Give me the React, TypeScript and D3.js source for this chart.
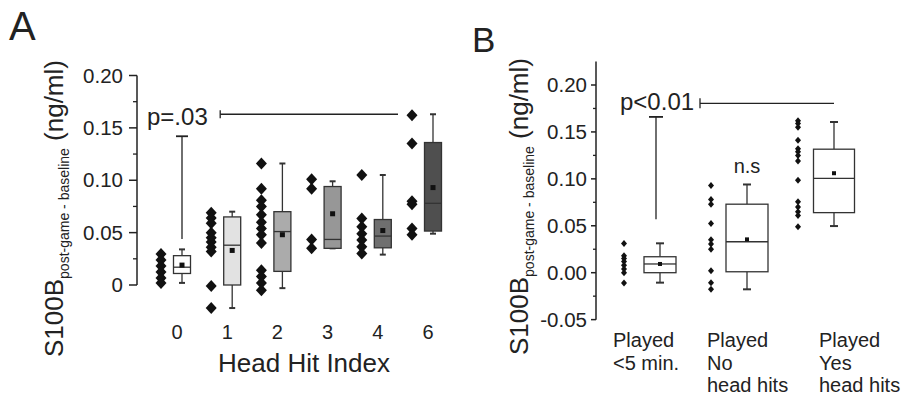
import React from "react";
import * as d3 from "d3";

// ---------- Panel A data ----------
const hitIndexCategories = ["0", "1", "2", "3", "4", "6"];
const hitIndexPoints: number[][] = [
  [0.0296, 0.0239, 0.0181, 0.0124, 0.0067, 0.0019],
  [0.069, 0.064, 0.059, 0.05, 0.045, 0.041, 0.036, 0.032, -0.001, -0.022],
  [0.116, 0.092, 0.081, 0.075, 0.067, 0.06, 0.054, 0.048, 0.04, 0.014, 0.008, 0.002, -0.005],
  [0.101, 0.092, 0.0435, 0.035],
  [0.105, 0.0635, 0.0555, 0.049, 0.043, 0.0365, 0.03],
  [0.162, 0.135, 0.08, 0.077, 0.054, 0.048],
];
const hitWhiskerLow = [0.002, -0.022, -0.003, 0.035, 0.029, 0.049];
const hitQ1 = [0.011, 0.0, 0.013, 0.035, 0.0355, 0.0515];
const hitMedian = [0.017, 0.038, 0.051, 0.0435, 0.0467, 0.078];
const hitQ3 = [0.028, 0.065, 0.07, 0.094, 0.0625, 0.136];
const hitWhiskerHigh = [0.034, 0.07, 0.116, 0.099, 0.105, 0.163];
const hitMean = [0.019, 0.033, 0.048, 0.068, 0.052, 0.093];
const tickValuesA = [0, 0.05, 0.1, 0.15, 0.2];
const tickLabelsA = ["0", "0.05", "0.10", "0.15", "0.20"];
const minorTicksA = [0.025, 0.075, 0.125, 0.175];
const pTextA = "p=.03";

// ---------- Panel B data ----------
const playCategories = ["<5", "No", "Yes"];
const playLabels = [
  ["Played", "<5 min."],
  ["Played", "No", "head hits"],
  ["Played", "Yes", "head hits"],
];
const playPoints: number[][] = [
  [0.031, 0.018, 0.015, 0.012, 0.008, 0.004, 0.0, -0.011],
  [0.093, 0.078, 0.073, 0.0525, 0.035, 0.0305, 0.025, 0.002, -0.0106, -0.0177],
  [0.162, 0.159, 0.155, 0.141, 0.132, 0.129, 0.125, 0.119, 0.0986, 0.0755, 0.07, 0.065, 0.061, 0.049],
];
const playWhiskerLow = [-0.0106, -0.0177, 0.0497];
const playQ1 = [0.0, 0.001, 0.064];
const playMedian = [0.0093, 0.033, 0.1004];
const playQ3 = [0.017, 0.073, 0.1316];
const playWhiskerHigh = [0.0313, 0.094, 0.1606];
const playMean = [0.0093, 0.0355, 0.106];
const tickValuesB = [-0.05, 0, 0.05, 0.1, 0.15, 0.2];
const tickLabelsB = ["-0.05", "0.00", "0.05", "0.10", "0.15", "0.20"];
const minorTicksB = [-0.025, 0.025, 0.075, 0.125, 0.175];
const pTextB = "p<0.01";
const nsText = "n.s";

// ---------- styles / layout ----------
const FONT = "'Liberation Sans', Arial, sans-serif";
const INK = "#222";
const boxFillsA = ["#ffffff", "#e2e2e2", "#ababab", "#979797", "#6f6f6f", "#4f4f4f"];
const boxWidthsB = [32, 42, 41];
const labelOffsetsB = [-47, -40, -15];

function YTitle({ x, y }: { x: number; y: number }) {
  return (
    <text transform={`translate(${x},${y}) rotate(-90)`} fontFamily={FONT} fontSize={26} fill={INK}>
      S100B
      <tspan fontSize={14} dy={6}>post-game - baseline</tspan>
      <tspan fontSize={26} dy={-6}> (ng/ml)</tspan>
    </text>
  );
}

function Diamond({ cx, cy, hw, hh }: { cx: number; cy: number; hw: number; hh: number }) {
  return <path d={`M${cx},${cy - hh}L${cx + hw},${cy}L${cx},${cy + hh}L${cx - hw},${cy}Z`} fill="#111" />;
}

function Box({
  cx, w, y, lo, q1, med, q3, hi, mean, fill, cap, ms,
}: {
  cx: number; w: number; y: (v: number) => number; lo: number; q1: number; med: number;
  q3: number; hi: number; mean: number; fill: string; cap: number; ms: number;
}) {
  const sw = 1.3;
  return (
    <g stroke="#333" strokeWidth={sw}>
      <line x1={cx} x2={cx} y1={y(hi)} y2={y(q3)} />
      <line x1={cx} x2={cx} y1={y(q1)} y2={y(lo)} />
      <line x1={cx - cap} x2={cx + cap} y1={y(hi)} y2={y(hi)} strokeWidth={2} />
      <line x1={cx - cap} x2={cx + cap} y1={y(lo)} y2={y(lo)} strokeWidth={2} />
      <rect x={cx - w / 2} y={y(q3)} width={w} height={y(q1) - y(q3)} fill={fill} />
      <line x1={cx - w / 2} x2={cx + w / 2} y1={y(med)} y2={y(med)} />
      <rect x={cx - ms / 2} y={y(mean) - ms / 2} width={ms} height={ms} fill="#111" stroke="none" />
    </g>
  );
}

export default function App() {
  // Panel A scales
  const xA = d3.scalePoint<string>().domain(hitIndexCategories).range([177, 428]);
  const yA = d3.scaleLinear().domain([0, 0.2]).range([285, 75.5]);
  const axisAx = 137;
  // Panel B scales
  const xB = d3.scalePoint<string>().domain(playCategories).range([660, 834]);
  const yB = d3.scaleLinear().domain([0, 0.2]).range([272.7, 85]);
  const axisBx = 596;

  const bracketA = { level: 0.163, top: 0.142, bottom: 0.044, text: 0.153 };
  const bracketB = { level: 0.1805, top: 0.166, bottom: 0.057, text: 0.173 };

  return (
    <svg width={906} height={400} style={{ position: "absolute", left: 0, top: 0, background: "#fff" }}>
      {/* Panel letters */}
      <text x={9} y={40} fontFamily={FONT} fontSize={40} fill={INK}>A</text>
      <text x={472} y={52} fontFamily={FONT} fontSize={35} fill={INK}>B</text>

      {/* ---------- Panel A ---------- */}
      <YTitle x={63} y={357} />
      <line x1={axisAx} x2={axisAx} y1={yA(0.2)} y2={yA(0)} stroke={INK} strokeWidth={1.5} />
      {tickValuesA.map((v, i) => (
        <g key={"ta" + i}>
          <line x1={axisAx - 8} x2={axisAx} y1={yA(v)} y2={yA(v)} stroke={INK} strokeWidth={1.5} />
          <text x={axisAx - 14} y={yA(v)} dy="0.35em" textAnchor="end" fontFamily={FONT} fontSize={20.5} fill={INK}>
            {tickLabelsA[i]}
          </text>
        </g>
      ))}
      {minorTicksA.map((v, i) => (
        <line key={"ma" + i} x1={axisAx - 4} x2={axisAx} y1={yA(v)} y2={yA(v)} stroke={INK} strokeWidth={1.3} />
      ))}
      {hitIndexCategories.map((c, i) => (
        <text key={"xa" + c} x={xA(c)!} y={339} textAnchor="middle" fontFamily={FONT} fontSize={20} fill={INK}>
          {c}
        </text>
      ))}
      <text x={304} y={372} textAnchor="middle" fontFamily={FONT} fontSize={26} fill={INK}>Head Hit Index</text>

      {hitIndexCategories.map((c, i) => (
        <g key={"pa" + c}>
          {hitIndexPoints[i].map((v, j) => (
            <Diamond key={j} cx={xA(c)! - 16} cy={yA(v)} hw={5.5} hh={6} />
          ))}
          <Box
            cx={xA(c)! + 5} w={17} y={yA}
            lo={hitWhiskerLow[i]} q1={hitQ1[i]} med={hitMedian[i]} q3={hitQ3[i]}
            hi={hitWhiskerHigh[i]} mean={hitMean[i]} fill={boxFillsA[i]} cap={3} ms={5}
          />
        </g>
      ))}

      {/* Bracket A */}
      <text x={147} y={yA(bracketA.text)} fontFamily={FONT} fontSize={24} fill={INK}>{pTextA}</text>
      <g stroke={INK} strokeWidth={1.3}>
        <line x1={xA("1")! - 7} x2={xA("6")! - 30} y1={yA(bracketA.level)} y2={yA(bracketA.level)} />
        <line x1={xA("1")! - 7} x2={xA("1")! - 7} y1={yA(bracketA.level) - 4} y2={yA(bracketA.level) + 4} />
        <line x1={xA("0")! + 5} x2={xA("0")! + 5} y1={yA(bracketA.top)} y2={yA(bracketA.bottom)} />
        <line x1={xA("0")! - 1} x2={xA("0")! + 11} y1={yA(bracketA.top)} y2={yA(bracketA.top)} strokeWidth={1.8} />
      </g>

      {/* ---------- Panel B ---------- */}
      <YTitle x={528} y={355} />
      <line x1={axisBx} x2={axisBx} y1={yB(0.225)} y2={yB(-0.05)} stroke={INK} strokeWidth={1.5} />
      {tickValuesB.map((v, i) => (
        <g key={"tb" + i}>
          <line x1={axisBx - 5} x2={axisBx} y1={yB(v)} y2={yB(v)} stroke={INK} strokeWidth={1.5} />
          <text x={axisBx - 9} y={yB(v)} dy="0.35em" textAnchor="end" fontFamily={FONT} fontSize={20.5} fill={INK}>
            {tickLabelsB[i]}
          </text>
        </g>
      ))}
      {minorTicksB.map((v, i) => (
        <line key={"mb" + i} x1={axisBx - 3} x2={axisBx} y1={yB(v)} y2={yB(v)} stroke={INK} strokeWidth={1.3} />
      ))}
      {playCategories.map((c, i) => (
        <text key={"xb" + c} x={xB(c)! + labelOffsetsB[i]} y={347} fontFamily={FONT} fontSize={20} fill={INK}>
          {playLabels[i].map((l, k) => (
            <tspan key={k} x={xB(c)! + labelOffsetsB[i]} dy={k === 0 ? 0 : 22.5}>{l}</tspan>
          ))}
        </text>
      ))}
      {playCategories.map((c, i) => (
        <g key={"pb" + c}>
          {playPoints[i].map((v, j) => (
            <Diamond key={j} cx={xB(c)! - 36} cy={yB(v)} hw={3} hh={3.5} />
          ))}
          <Box
            cx={xB(c)!} w={boxWidthsB[i]} y={yB}
            lo={playWhiskerLow[i]} q1={playQ1[i]} med={playMedian[i]} q3={playQ3[i]}
            hi={playWhiskerHigh[i]} mean={playMean[i]} fill="#ffffff" cap={4} ms={4}
          />
        </g>
      ))}
      <text x={xB("No")!} y={173} textAnchor="middle" fontFamily={FONT} fontSize={20} fill={INK}>{nsText}</text>

      {/* Bracket B */}
      <text x={620} y={yB(bracketB.text)} fontFamily={FONT} fontSize={24} fill={INK}>{pTextB}</text>
      <g stroke={INK} strokeWidth={1.3}>
        <line x1={700} x2={xB("Yes")!} y1={yB(bracketB.level)} y2={yB(bracketB.level)} />
        <line x1={700} x2={700} y1={yB(bracketB.level) - 5} y2={yB(bracketB.level) + 5} />
        <line x1={xB("<5")! - 4} x2={xB("<5")! - 4} y1={yB(bracketB.top)} y2={yB(bracketB.bottom)} />
        <line x1={xB("<5")! - 11} x2={xB("<5")! + 3} y1={yB(bracketB.top)} y2={yB(bracketB.top)} strokeWidth={1.8} />
      </g>
    </svg>
  );
}
